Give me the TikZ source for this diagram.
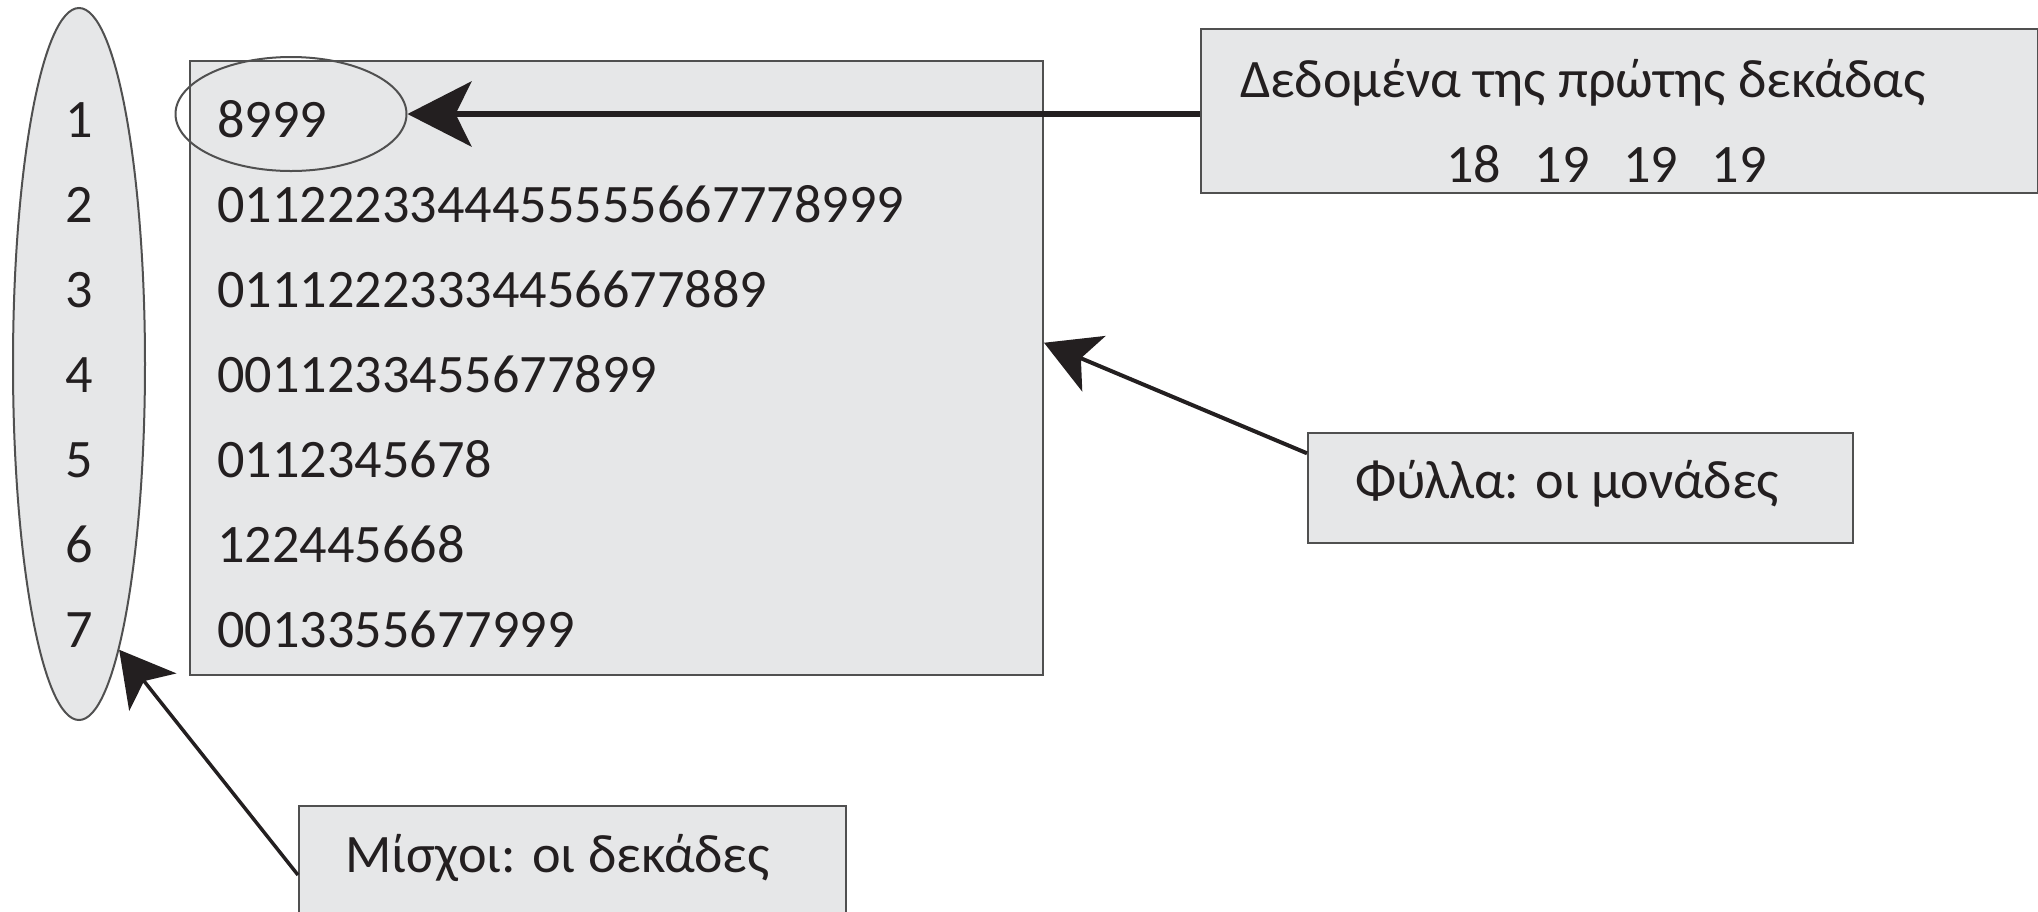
\documentclass[tikz,border=0pt]{standalone}
\usepackage{fontspec}
\setmainfont{Carlito}
\usetikzlibrary{arrows.meta,shapes.geometric,calc}
\definecolor{panel}{HTML}{E6E7E8}
\definecolor{rim}{HTML}{505050}
\definecolor{ink}{HTML}{231F20}

\begin{document}
\begin{tikzpicture}[x=0.5pt,y=-0.5pt,
  panelbox/.style={draw=rim, line width=1pt, fill=panel, inner sep=0pt},
  txt/.style={font=\fontsize{27.1}{32}\selectfont, text=ink, inner sep=0pt},
  pointer/.style={draw=ink, line width=2pt,
    -{Stealth[length=27pt,width=30pt,inset=7pt]}},
]
\useasboundingbox (0,0) rectangle (2038,911);
\clip (0,0) rectangle (2038,911);

% stems: the tens in a tall ellipse
\node (stems) [panelbox, ellipse, minimum width=66pt, minimum height=356pt] at (79,364) {};
\foreach \d [count=\k from 0] in {1,...,7}
  \node[txt, anchor=base] (s\d) at (79,137+85*\k) {\d};

% leaves: the units
\node (leaves) [panelbox, rectangle, anchor=north west,
  minimum width=426.5pt, minimum height=307pt] at (189,60) {};
\foreach \row [count=\k from 0] in {8999,0112223344455555667778999,
    01112223334456677889,0011233455677899,0112345678,122445668,0013355677999}
  \node[txt, anchor=base west] (l\k) at (217,137+85*\k) {\row};

% ring around the first row
\node (first) [ellipse, draw=rim, line width=1pt, inner sep=0pt,
  minimum width=115.5pt, minimum height=57pt] at (291,114) {};

% note boxes
\node (data) [panelbox, rectangle, anchor=north west,
  minimum width=418.5pt, minimum height=82pt] at (1200,28) {};
\node[txt, anchor=base west] (dataA) at (1240,97) {Δεδομένα της πρώτης δεκάδας};
\node[txt, anchor=base west] (dataB) at (1446,182)
  {18\hspace{16.75pt}19\hspace{16.75pt}19\hspace{16.75pt}19};

\node (leafnote) [panelbox, rectangle, anchor=north west,
  minimum width=272.5pt, minimum height=55pt] at (1307,432) {};
\node[txt, anchor=base west] (leafnoteT) at (1355,498) {Φύλλα: οι μονάδες};

\node (stemnote) [panelbox, rectangle, anchor=north west,
  minimum width=273.5pt, minimum height=70pt] at (298,805) {};
\node[txt, anchor=base west] (stemnoteT) at (345,872) {Μίσχοι: οι δεκάδες};

% connectors
\draw[pointer, line width=3pt, -{Stealth[length=32pt,width=32.5pt,inset=8pt]}]
  (first.east -| data.west) -- (first.east);
\draw[pointer]
  ($(leafnote.north west)!0.19!(leafnote.south west)$) --
  ($(leaves.north east)!0.459!(leaves.south east)$);
\draw[pointer, line width=1.75pt]
  ($(stemnote.north west)+(0,70)$) -- (stems.-82.3);
\end{tikzpicture}
\end{document}
